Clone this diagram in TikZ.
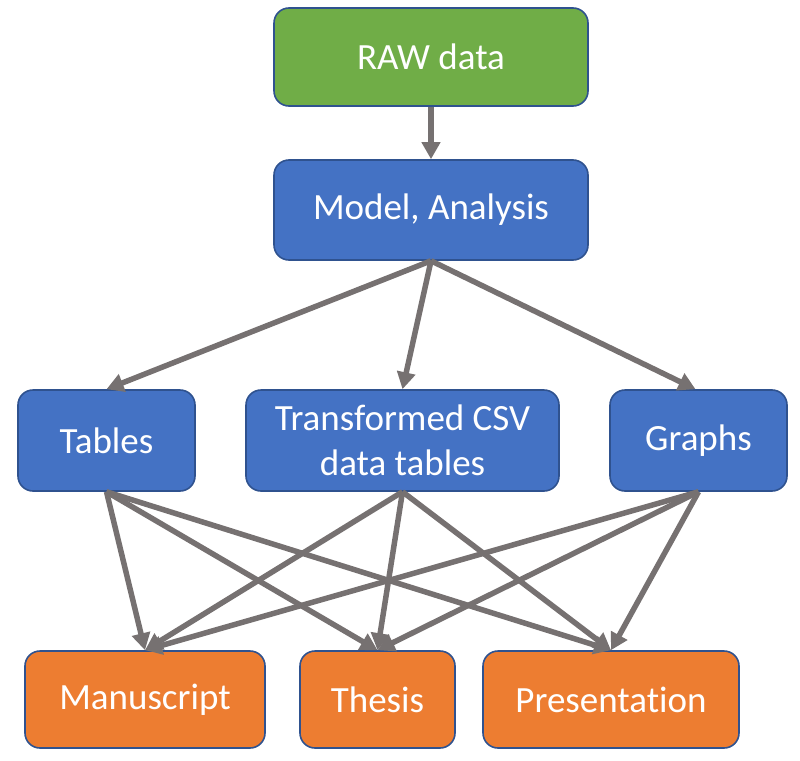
\documentclass[tikz,border=0pt]{standalone}
\usepackage{fontspec}
\setmainfont{Carlito}[Ligatures=NoCommon]
\usetikzlibrary{arrows.meta}
\definecolor{cgreen}{HTML}{70AD47}
\definecolor{cblue}{HTML}{4472C4}
\definecolor{corange}{HTML}{ED7D31}
\definecolor{cborder}{HTML}{2F528F}
\definecolor{carrow}{HTML}{767171}
\tikzset{
  box/.style={draw=cborder, line width=1.6pt, rounded corners=15pt, text=white,
    font=\fontsize{37}{45}\selectfont, align=center, inner sep=0pt},
  conn/.style={draw=carrow, line width=5.5pt, -{Triangle[length=17pt,width=18pt]}}
}
\begin{document}
\begin{tikzpicture}[x=1pt,y=-1pt]
\useasboundingbox (0,0) rectangle (800,760);
\node[box, fill=cgreen, minimum width=314pt, minimum height=98pt] (raw) at (431,57) {RAW data};
\node[box, fill=cblue, minimum width=314pt, minimum height=100pt] (model) at (431,210) {Model, Analysis};
\node[box, fill=cblue, minimum width=177pt, minimum height=101pt] (tables) at (106.5,440.5) {Tables};
\node[box, fill=cblue, minimum width=313pt, minimum height=101pt] (csv) at (402.5,440.5) {Transformed CSV\\data tables};
\node[box, fill=cblue, minimum width=177pt, minimum height=101pt] (graphs) at (698.5,440.5) {Graphs};
\node[box, fill=corange, minimum width=240pt, minimum height=97pt] (manu) at (145,699.5) {Manuscript};
\node[box, fill=corange, minimum width=155pt, minimum height=97pt] (thesis) at (377.5,699.5) {Thesis};
\node[box, fill=corange, minimum width=256pt, minimum height=97pt] (pres) at (611,699.5) {Presentation};
\draw[conn] (raw.south) -- (model.north);
\draw[conn] (model.south) -- (tables.north);
\draw[conn] (model.south) -- (csv.north);
\draw[conn] (model.south) -- ([xshift=-3pt]graphs.north);
\foreach \s in {tables,csv,graphs}{
  \foreach \t in {manu,thesis,pres}{
    \draw[conn] (\s.south) -- (\t.north);
  }
}
\end{tikzpicture}
\end{document}
